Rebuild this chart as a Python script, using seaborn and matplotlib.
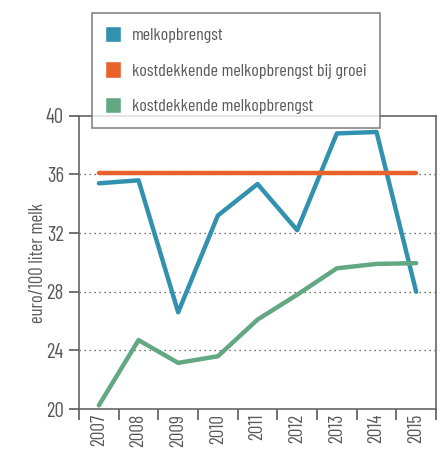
import numpy as np
import pandas as pd
import seaborn as sns
import matplotlib.pyplot as plt
from matplotlib.patches import Patch
from matplotlib.ticker import FixedLocator

years = ["2007", "2008", "2009", "2010", "2011", "2012", "2013", "2014", "2015"]
melkopbrengst = [35.4, 35.6, 26.6, 33.2, 35.35, 32.2, 38.8, 38.9, 28.0]
kostdekkend_groei = [36.1, 36.1, 36.1, 36.1, 36.1, 36.1, 36.1, 36.1, 36.1]
kostdekkend = [20.25, 24.7, 23.15, 23.6, 26.1, 27.8, 29.6, 29.9, 29.95]
series_names = ["melkopbrengst", "kostdekkende melkopbrengst bij groei", "kostdekkende melkopbrengst"]
colors = ["#3391b0", "#e8622a", "#63a883"]

sns.set_style("white")
plt.rcParams["font.family"] = ["Barlow Condensed", "Roboto Condensed", "DejaVu Sans"]
grey = "#5a5a5a"

df = pd.DataFrame({
    "pos": list(range(len(years))) * 3,
    "waarde": melkopbrengst + kostdekkend_groei + kostdekkend,
    "reeks": [series_names[0]] * 9 + [series_names[1]] * 9 + [series_names[2]] * 9,
})

fig = plt.figure(figsize=(4.44, 4.49), dpi=100)
ax = fig.add_axes([0.178, 0.089, 0.804, 0.653])

sns.lineplot(data=df, x="pos", y="waarde", hue="reeks", hue_order=series_names,
             palette=colors, linewidth=3.2, legend=False, ax=ax)

ax.set_xlim(-0.5, 8.5)
ax.set_ylim(20, 40)
ax.set_yticks([20, 24, 28, 32, 36, 40])
ax.set_yticklabels(["20", "24", "28", "32", "36", "40"], fontsize=15, color=grey)
ax.xaxis.set_major_locator(FixedLocator(np.arange(-0.5, 9, 1)))
ax.xaxis.set_major_formatter(plt.NullFormatter())
ax.xaxis.set_minor_locator(FixedLocator(np.arange(0, 9, 1)))
ax.set_xticklabels(years, minor=True, rotation=90, fontsize=14, color=grey)
ax.tick_params(axis="x", which="major", direction="out", length=8, width=1.2, color=grey, bottom=True)
ax.tick_params(axis="x", which="minor", length=0, pad=3.5)
ax.tick_params(axis="y", direction="out", length=7, width=1.2, color=grey, left=True, pad=4)
ax.set_xlabel("")
ax.set_ylabel("euro/100 liter melk", fontsize=13.5, color=grey, labelpad=-1)

for y in [24, 28, 32, 36]:
    ax.axhline(y, color="#444444", linestyle=(0, (1, 3)), linewidth=0.9, zorder=0)

for sp in ax.spines.values():
    sp.set_color("#666666")
    sp.set_linewidth(1.2)

handles = [Patch(facecolor=c, edgecolor="white") for c in colors]
leg = fig.legend(handles, series_names, loc="upper left", bbox_to_anchor=(0.207, 0.972),
                 frameon=True, fancybox=False, fontsize=13, labelspacing=1.0,
                 handlelength=0.85, handleheight=1.0, handletextpad=0.6,
                 borderpad=0.75, borderaxespad=0)
leg.get_frame().set_edgecolor("#666666")
leg.get_frame().set_linewidth(1.2)
for t in leg.get_texts():
    t.set_color(grey)

fig.savefig("out.png", dpi=100)
